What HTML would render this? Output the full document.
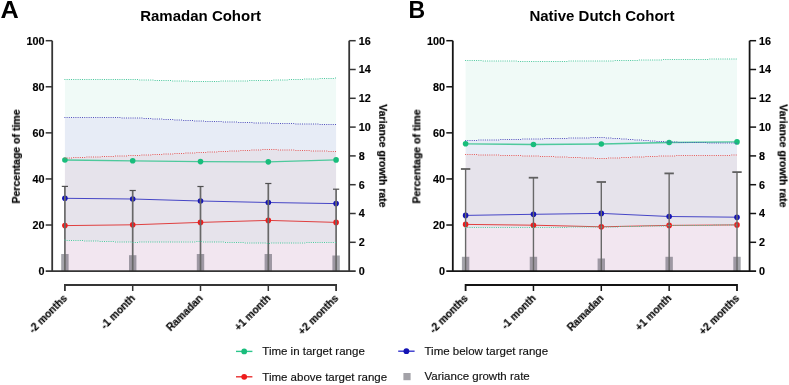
<!DOCTYPE html>
<html><head><meta charset="utf-8"><title>Chart</title><style>
html,body{margin:0;padding:0;background:#fff;}
svg{display:block;} text{will-change:transform;}
text{font-family:"Liberation Sans", sans-serif;}
.tk{font-size:10.8px;font-weight:bold;fill:#000;stroke:#000;stroke-width:0.15px;}
.xl{font-size:10.3px;font-weight:bold;fill:#000;stroke:#000;stroke-width:0.15px;}
.ttl{font-size:15px;font-weight:bold;fill:#000;}
.lbl{font-size:24.3px;font-weight:bold;fill:#000;}
.yt{font-size:10.5px;font-weight:bold;fill:#000;stroke:#000;stroke-width:0.2px;}
.lg{font-size:11.5px;fill:#111;stroke:#111;stroke-width:0.15px;}
</style></head>
<body>
<svg width="789" height="385" viewBox="0 0 789 385">
<rect width="789" height="385" fill="#fff"/>
<polygon points="64.9,79.5 132.7,79.6 200.5,81.6 268.3,80.4 336.1,78.2 336.1,124.6 268.3,123.2 200.5,121.1 132.7,117.8 64.9,117.5" fill="#f0faf7"/>
<polygon points="64.9,117.5 132.7,117.8 200.5,121.1 268.3,123.2 336.1,124.6 336.1,151.5 268.3,149.5 200.5,152.5 132.7,155.6 64.9,158" fill="#e7ecf6"/>
<polygon points="64.9,158 132.7,155.6 200.5,152.5 268.3,149.5 336.1,151.5 336.1,242.3 268.3,243.3 200.5,241.7 132.7,242.3 64.9,240.2" fill="#e6e3eb"/>
<polygon points="64.9,240.2 132.7,242.3 200.5,241.7 268.3,243.3 336.1,242.3 336.1,271.1 268.3,271.1 200.5,271.1 132.7,271.1 64.9,271.1" fill="#f2e6f0"/>
<rect x="61.2" y="254" width="7.4" height="17.1" fill="#4a4a56" fill-opacity="0.5"/>
<rect x="129" y="255.2" width="7.4" height="15.9" fill="#4a4a56" fill-opacity="0.5"/>
<rect x="196.8" y="254" width="7.4" height="17.1" fill="#4a4a56" fill-opacity="0.5"/>
<rect x="264.6" y="254" width="7.4" height="17.1" fill="#4a4a56" fill-opacity="0.5"/>
<rect x="332.4" y="255.5" width="7.4" height="15.6" fill="#4a4a56" fill-opacity="0.5"/>
<polyline points="64.9,160 132.7,160.8 200.5,161.6 268.3,161.85 336.1,159.9" fill="none" stroke="#4ec99c" stroke-width="1.3"/>
<polyline points="64.9,198.3 132.7,199 200.5,201 268.3,202.5 336.1,203.6" fill="none" stroke="#4646c6" stroke-width="1.0"/>
<polyline points="64.9,225.6 132.7,224.8 200.5,222.4 268.3,220.4 336.1,222.4" fill="none" stroke="#e04040" stroke-width="1.0"/>
<circle cx="64.9" cy="160" r="2.8" fill="#19bd7c"/>
<circle cx="132.7" cy="160.8" r="2.8" fill="#19bd7c"/>
<circle cx="200.5" cy="161.6" r="2.8" fill="#19bd7c"/>
<circle cx="268.3" cy="161.85" r="2.8" fill="#19bd7c"/>
<circle cx="336.1" cy="159.9" r="2.8" fill="#19bd7c"/>
<circle cx="64.9" cy="198.3" r="2.8" fill="#1414b4"/>
<circle cx="132.7" cy="199" r="2.8" fill="#1414b4"/>
<circle cx="200.5" cy="201" r="2.8" fill="#1414b4"/>
<circle cx="268.3" cy="202.5" r="2.8" fill="#1414b4"/>
<circle cx="336.1" cy="203.6" r="2.8" fill="#1414b4"/>
<circle cx="64.9" cy="225.6" r="2.8" fill="#ee1c1c"/>
<circle cx="132.7" cy="224.8" r="2.8" fill="#ee1c1c"/>
<circle cx="200.5" cy="222.4" r="2.8" fill="#ee1c1c"/>
<circle cx="268.3" cy="220.4" r="2.8" fill="#ee1c1c"/>
<circle cx="336.1" cy="222.4" r="2.8" fill="#ee1c1c"/>
<line x1="64.9" y1="186.4" x2="64.9" y2="271.1" stroke="#686868" stroke-width="1.7"/>
<line x1="61.8" y1="186.4" x2="68" y2="186.4" stroke="#505050" stroke-width="1.2"/>
<line x1="132.7" y1="190.5" x2="132.7" y2="271.1" stroke="#686868" stroke-width="1.7"/>
<line x1="129.6" y1="190.5" x2="135.8" y2="190.5" stroke="#505050" stroke-width="1.2"/>
<line x1="200.5" y1="186.5" x2="200.5" y2="271.1" stroke="#686868" stroke-width="1.7"/>
<line x1="197.4" y1="186.5" x2="203.6" y2="186.5" stroke="#505050" stroke-width="1.2"/>
<line x1="268.3" y1="183.5" x2="268.3" y2="271.1" stroke="#686868" stroke-width="1.7"/>
<line x1="265.2" y1="183.5" x2="271.4" y2="183.5" stroke="#505050" stroke-width="1.2"/>
<line x1="336.1" y1="189.2" x2="336.1" y2="271.1" stroke="#686868" stroke-width="1.7"/>
<line x1="333" y1="189.2" x2="339.2" y2="189.2" stroke="#505050" stroke-width="1.2"/>
<path d="M64.4 79h1v1h-1zM66.6 79h1v1h-1zM68.8 79h1v1h-1zM71 79h1v1h-1zM73.2 79h1v1h-1zM75.4 79h1v1h-1zM77.6 79h1v1h-1zM79.8 79h1v1h-1zM82 79h1v1h-1zM84.2 79h1v1h-1zM86.4 79h1v1h-1zM88.6 79h1v1h-1zM90.8 79h1v1h-1zM93 79h1v1h-1zM95.2 79h1v1h-1zM97.4 79h1v1h-1zM99.6 79h1v1h-1zM101.8 79h1v1h-1zM104 79h1v1h-1zM106.2 79h1v1h-1zM108.4 79h1v1h-1zM110.6 79h1v1h-1zM112.8 79h1v1h-1zM115 79h1v1h-1zM117.2 79h1v1h-1zM119.4 79h1v1h-1zM121.6 79h1v1h-1zM123.8 79h1v1h-1zM126 79h1v1h-1zM128.2 79h1v1h-1zM130.4 79h1v1h-1zM132.6 79h1v1h-1zM134.8 79h1v1h-1zM137 79h1v1h-1zM139.2 79.5h1v1h-1zM141.4 79.5h1v1h-1zM143.6 79.5h1v1h-1zM145.8 79.5h1v1h-1zM148 79.5h1v1h-1zM150.2 79.5h1v1h-1zM152.4 79.5h1v1h-1zM154.6 80h1v1h-1zM156.8 80h1v1h-1zM159 80h1v1h-1zM161.2 80h1v1h-1zM163.4 80h1v1h-1zM165.6 80h1v1h-1zM167.8 80h1v1h-1zM170 80h1v1h-1zM172.2 80.5h1v1h-1zM174.4 80.5h1v1h-1zM176.6 80.5h1v1h-1zM178.8 80.5h1v1h-1zM181 80.5h1v1h-1zM183.2 80.5h1v1h-1zM185.4 80.5h1v1h-1zM187.6 80.5h1v1h-1zM189.8 81h1v1h-1zM192 81h1v1h-1zM194.2 81h1v1h-1zM196.4 81h1v1h-1zM198.6 81h1v1h-1zM200.8 81h1v1h-1zM203 81h1v1h-1zM205.2 81h1v1h-1zM207.4 81h1v1h-1zM209.6 81h1v1h-1zM211.8 81h1v1h-1zM214 81h1v1h-1zM216.2 81h1v1h-1zM218.4 81h1v1h-1zM220.6 80.5h1v1h-1zM222.8 80.5h1v1h-1zM225 80.5h1v1h-1zM227.2 80.5h1v1h-1zM229.4 80.5h1v1h-1zM231.6 80.5h1v1h-1zM233.8 80.5h1v1h-1zM236 80.5h1v1h-1zM238.2 80.5h1v1h-1zM240.4 80.5h1v1h-1zM242.6 80.5h1v1h-1zM244.8 80.5h1v1h-1zM247 80.5h1v1h-1zM249.2 80h1v1h-1zM251.4 80h1v1h-1zM253.6 80h1v1h-1zM255.8 80h1v1h-1zM258 80h1v1h-1zM260.2 80h1v1h-1zM262.4 80h1v1h-1zM264.6 80h1v1h-1zM266.8 80h1v1h-1zM269 80h1v1h-1zM271.2 80h1v1h-1zM273.4 79.5h1v1h-1zM275.6 79.5h1v1h-1zM277.8 79.5h1v1h-1zM280 79.5h1v1h-1zM282.2 79.5h1v1h-1zM284.4 79.5h1v1h-1zM286.6 79.5h1v1h-1zM288.8 79h1v1h-1zM291 79h1v1h-1zM293.2 79h1v1h-1zM295.4 79h1v1h-1zM297.6 79h1v1h-1zM299.8 79h1v1h-1zM302 79h1v1h-1zM304.2 78.5h1v1h-1zM306.4 78.5h1v1h-1zM308.6 78.5h1v1h-1zM310.8 78.5h1v1h-1zM313 78.5h1v1h-1zM315.2 78.5h1v1h-1zM317.4 78.5h1v1h-1zM319.6 78h1v1h-1zM321.8 78h1v1h-1zM324 78h1v1h-1zM326.2 78h1v1h-1zM328.4 78h1v1h-1zM330.6 78h1v1h-1zM332.8 78h1v1h-1zM335 77.5h1v1h-1z" fill="#4cc89e"/>
<path d="M64.4 117h1v1h-1zM66.6 117h1v1h-1zM68.8 117h1v1h-1zM71 117h1v1h-1zM73.2 117h1v1h-1zM75.4 117h1v1h-1zM77.6 117h1v1h-1zM79.8 117h1v1h-1zM82 117h1v1h-1zM84.2 117h1v1h-1zM86.4 117h1v1h-1zM88.6 117h1v1h-1zM90.8 117h1v1h-1zM93 117h1v1h-1zM95.2 117h1v1h-1zM97.4 117h1v1h-1zM99.6 117h1v1h-1zM101.8 117h1v1h-1zM104 117h1v1h-1zM106.2 117h1v1h-1zM108.4 117h1v1h-1zM110.6 117h1v1h-1zM112.8 117h1v1h-1zM115 117h1v1h-1zM117.2 117h1v1h-1zM119.4 117h1v1h-1zM121.6 117.5h1v1h-1zM123.8 117.5h1v1h-1zM126 117.5h1v1h-1zM128.2 117.5h1v1h-1zM130.4 117.5h1v1h-1zM132.6 117.5h1v1h-1zM134.8 117.5h1v1h-1zM137 117.5h1v1h-1zM139.2 117.5h1v1h-1zM141.4 117.5h1v1h-1zM143.6 118h1v1h-1zM145.8 118h1v1h-1zM148 118h1v1h-1zM150.2 118h1v1h-1zM152.4 118.5h1v1h-1zM154.6 118.5h1v1h-1zM156.8 118.5h1v1h-1zM159 118.5h1v1h-1zM161.2 118.5h1v1h-1zM163.4 119h1v1h-1zM165.6 119h1v1h-1zM167.8 119h1v1h-1zM170 119h1v1h-1zM172.2 119h1v1h-1zM174.4 119.5h1v1h-1zM176.6 119.5h1v1h-1zM178.8 119.5h1v1h-1zM181 119.5h1v1h-1zM183.2 120h1v1h-1zM185.4 120h1v1h-1zM187.6 120h1v1h-1zM189.8 120h1v1h-1zM192 120h1v1h-1zM194.2 120.5h1v1h-1zM196.4 120.5h1v1h-1zM198.6 120.5h1v1h-1zM200.8 120.5h1v1h-1zM203 120.5h1v1h-1zM205.2 121h1v1h-1zM207.4 121h1v1h-1zM209.6 121h1v1h-1zM211.8 121h1v1h-1zM214 121h1v1h-1zM216.2 121h1v1h-1zM218.4 121h1v1h-1zM220.6 121h1v1h-1zM222.8 121.5h1v1h-1zM225 121.5h1v1h-1zM227.2 121.5h1v1h-1zM229.4 121.5h1v1h-1zM231.6 121.5h1v1h-1zM233.8 121.5h1v1h-1zM236 121.5h1v1h-1zM238.2 122h1v1h-1zM240.4 122h1v1h-1zM242.6 122h1v1h-1zM244.8 122h1v1h-1zM247 122h1v1h-1zM249.2 122h1v1h-1zM251.4 122h1v1h-1zM253.6 122.5h1v1h-1zM255.8 122.5h1v1h-1zM258 122.5h1v1h-1zM260.2 122.5h1v1h-1zM262.4 122.5h1v1h-1zM264.6 122.5h1v1h-1zM266.8 122.5h1v1h-1zM269 122.5h1v1h-1zM271.2 123h1v1h-1zM273.4 123h1v1h-1zM275.6 123h1v1h-1zM277.8 123h1v1h-1zM280 123h1v1h-1zM282.2 123h1v1h-1zM284.4 123h1v1h-1zM286.6 123h1v1h-1zM288.8 123h1v1h-1zM291 123h1v1h-1zM293.2 123h1v1h-1zM295.4 123.5h1v1h-1zM297.6 123.5h1v1h-1zM299.8 123.5h1v1h-1zM302 123.5h1v1h-1zM304.2 123.5h1v1h-1zM306.4 123.5h1v1h-1zM308.6 123.5h1v1h-1zM310.8 123.5h1v1h-1zM313 123.5h1v1h-1zM315.2 123.5h1v1h-1zM317.4 123.5h1v1h-1zM319.6 124h1v1h-1zM321.8 124h1v1h-1zM324 124h1v1h-1zM326.2 124h1v1h-1zM328.4 124h1v1h-1zM330.6 124h1v1h-1zM332.8 124h1v1h-1zM335 124h1v1h-1z" fill="#5252bc"/>
<path d="M64.4 157.5h1v1h-1zM66.6 157.5h1v1h-1zM68.8 157.5h1v1h-1zM71 157.5h1v1h-1zM73.2 157h1v1h-1zM75.4 157h1v1h-1zM77.6 157h1v1h-1zM79.8 157h1v1h-1zM82 157h1v1h-1zM84.2 157h1v1h-1zM86.4 156.5h1v1h-1zM88.6 156.5h1v1h-1zM90.8 156.5h1v1h-1zM93 156.5h1v1h-1zM95.2 156.5h1v1h-1zM97.4 156.5h1v1h-1zM99.6 156.5h1v1h-1zM101.8 156h1v1h-1zM104 156h1v1h-1zM106.2 156h1v1h-1zM108.4 156h1v1h-1zM110.6 156h1v1h-1zM112.8 156h1v1h-1zM115 155.5h1v1h-1zM117.2 155.5h1v1h-1zM119.4 155.5h1v1h-1zM121.6 155.5h1v1h-1zM123.8 155.5h1v1h-1zM126 155.5h1v1h-1zM128.2 155h1v1h-1zM130.4 155h1v1h-1zM132.6 155h1v1h-1zM134.8 155h1v1h-1zM137 155h1v1h-1zM139.2 155h1v1h-1zM141.4 154.5h1v1h-1zM143.6 154.5h1v1h-1zM145.8 154.5h1v1h-1zM148 154.5h1v1h-1zM150.2 154.5h1v1h-1zM152.4 154h1v1h-1zM154.6 154h1v1h-1zM156.8 154h1v1h-1zM159 154h1v1h-1zM161.2 154h1v1h-1zM163.4 153.5h1v1h-1zM165.6 153.5h1v1h-1zM167.8 153.5h1v1h-1zM170 153.5h1v1h-1zM172.2 153.5h1v1h-1zM174.4 153h1v1h-1zM176.6 153h1v1h-1zM178.8 153h1v1h-1zM181 153h1v1h-1zM183.2 153h1v1h-1zM185.4 152.5h1v1h-1zM187.6 152.5h1v1h-1zM189.8 152.5h1v1h-1zM192 152.5h1v1h-1zM194.2 152.5h1v1h-1zM196.4 152h1v1h-1zM198.6 152h1v1h-1zM200.8 152h1v1h-1zM203 152h1v1h-1zM205.2 152h1v1h-1zM207.4 151.5h1v1h-1zM209.6 151.5h1v1h-1zM211.8 151.5h1v1h-1zM214 151.5h1v1h-1zM216.2 151.5h1v1h-1zM218.4 151h1v1h-1zM220.6 151h1v1h-1zM222.8 151h1v1h-1zM225 151h1v1h-1zM227.2 151h1v1h-1zM229.4 150.5h1v1h-1zM231.6 150.5h1v1h-1zM233.8 150.5h1v1h-1zM236 150.5h1v1h-1zM238.2 150.5h1v1h-1zM240.4 150h1v1h-1zM242.6 150h1v1h-1zM244.8 150h1v1h-1zM247 150h1v1h-1zM249.2 150h1v1h-1zM251.4 149.5h1v1h-1zM253.6 149.5h1v1h-1zM255.8 149.5h1v1h-1zM258 149.5h1v1h-1zM260.2 149.5h1v1h-1zM262.4 149h1v1h-1zM264.6 149h1v1h-1zM266.8 149h1v1h-1zM269 149h1v1h-1zM271.2 149h1v1h-1zM273.4 149h1v1h-1zM275.6 149h1v1h-1zM277.8 149.5h1v1h-1zM280 149.5h1v1h-1zM282.2 149.5h1v1h-1zM284.4 149.5h1v1h-1zM286.6 149.5h1v1h-1zM288.8 149.5h1v1h-1zM291 149.5h1v1h-1zM293.2 149.5h1v1h-1zM295.4 150h1v1h-1zM297.6 150h1v1h-1zM299.8 150h1v1h-1zM302 150h1v1h-1zM304.2 150h1v1h-1zM306.4 150h1v1h-1zM308.6 150h1v1h-1zM310.8 150.5h1v1h-1zM313 150.5h1v1h-1zM315.2 150.5h1v1h-1zM317.4 150.5h1v1h-1zM319.6 150.5h1v1h-1zM321.8 150.5h1v1h-1zM324 150.5h1v1h-1zM326.2 150.5h1v1h-1zM328.4 151h1v1h-1zM330.6 151h1v1h-1zM332.8 151h1v1h-1zM335 151h1v1h-1z" fill="#e25858"/>
<path d="M64.4 239.5h1v1h-1zM66.6 240h1v1h-1zM68.8 240h1v1h-1zM71 240h1v1h-1zM73.2 240h1v1h-1zM75.4 240h1v1h-1zM77.6 240h1v1h-1zM79.8 240h1v1h-1zM82 240h1v1h-1zM84.2 240.5h1v1h-1zM86.4 240.5h1v1h-1zM88.6 240.5h1v1h-1zM90.8 240.5h1v1h-1zM93 240.5h1v1h-1zM95.2 240.5h1v1h-1zM97.4 240.5h1v1h-1zM99.6 241h1v1h-1zM101.8 241h1v1h-1zM104 241h1v1h-1zM106.2 241h1v1h-1zM108.4 241h1v1h-1zM110.6 241h1v1h-1zM112.8 241h1v1h-1zM115 241.5h1v1h-1zM117.2 241.5h1v1h-1zM119.4 241.5h1v1h-1zM121.6 241.5h1v1h-1zM123.8 241.5h1v1h-1zM126 241.5h1v1h-1zM128.2 241.5h1v1h-1zM130.4 241.5h1v1h-1zM132.6 242h1v1h-1zM134.8 242h1v1h-1zM137 242h1v1h-1zM139.2 241.5h1v1h-1zM141.4 241.5h1v1h-1zM143.6 241.5h1v1h-1zM145.8 241.5h1v1h-1zM148 241.5h1v1h-1zM150.2 241.5h1v1h-1zM152.4 241.5h1v1h-1zM154.6 241.5h1v1h-1zM156.8 241.5h1v1h-1zM159 241.5h1v1h-1zM161.2 241.5h1v1h-1zM163.4 241.5h1v1h-1zM165.6 241.5h1v1h-1zM167.8 241.5h1v1h-1zM170 241.5h1v1h-1zM172.2 241.5h1v1h-1zM174.4 241.5h1v1h-1zM176.6 241.5h1v1h-1zM178.8 241.5h1v1h-1zM181 241.5h1v1h-1zM183.2 241.5h1v1h-1zM185.4 241.5h1v1h-1zM187.6 241.5h1v1h-1zM189.8 241.5h1v1h-1zM192 241.5h1v1h-1zM194.2 241.5h1v1h-1zM196.4 241h1v1h-1zM198.6 241h1v1h-1zM200.8 241h1v1h-1zM203 241.5h1v1h-1zM205.2 241.5h1v1h-1zM207.4 241.5h1v1h-1zM209.6 241.5h1v1h-1zM211.8 241.5h1v1h-1zM214 241.5h1v1h-1zM216.2 241.5h1v1h-1zM218.4 241.5h1v1h-1zM220.6 241.5h1v1h-1zM222.8 241.5h1v1h-1zM225 242h1v1h-1zM227.2 242h1v1h-1zM229.4 242h1v1h-1zM231.6 242h1v1h-1zM233.8 242h1v1h-1zM236 242h1v1h-1zM238.2 242h1v1h-1zM240.4 242h1v1h-1zM242.6 242h1v1h-1zM244.8 242.5h1v1h-1zM247 242.5h1v1h-1zM249.2 242.5h1v1h-1zM251.4 242.5h1v1h-1zM253.6 242.5h1v1h-1zM255.8 242.5h1v1h-1zM258 242.5h1v1h-1zM260.2 242.5h1v1h-1zM262.4 242.5h1v1h-1zM264.6 242.5h1v1h-1zM266.8 243h1v1h-1zM269 243h1v1h-1zM271.2 242.5h1v1h-1zM273.4 242.5h1v1h-1zM275.6 242.5h1v1h-1zM277.8 242.5h1v1h-1zM280 242.5h1v1h-1zM282.2 242.5h1v1h-1zM284.4 242.5h1v1h-1zM286.6 242.5h1v1h-1zM288.8 242.5h1v1h-1zM291 242.5h1v1h-1zM293.2 242.5h1v1h-1zM295.4 242.5h1v1h-1zM297.6 242.5h1v1h-1zM299.8 242.5h1v1h-1zM302 242.5h1v1h-1zM304.2 242.5h1v1h-1zM306.4 242h1v1h-1zM308.6 242h1v1h-1zM310.8 242h1v1h-1zM313 242h1v1h-1zM315.2 242h1v1h-1zM317.4 242h1v1h-1zM319.6 242h1v1h-1zM321.8 242h1v1h-1zM324 242h1v1h-1zM326.2 242h1v1h-1zM328.4 242h1v1h-1zM330.6 242h1v1h-1zM332.8 242h1v1h-1zM335 242h1v1h-1z" fill="#4cc89e"/>
<line x1="52.2" y1="40.7" x2="52.2" y2="271.1" stroke="#353535" stroke-width="1.8"/>
<line x1="349.2" y1="40.7" x2="349.2" y2="271.1" stroke="#353535" stroke-width="1.8"/>
<line x1="45.7" y1="271.1" x2="355.7" y2="271.1" stroke="#353535" stroke-width="1.8"/>
<line x1="45.7" y1="40.7" x2="52.2" y2="40.7" stroke="#353535" stroke-width="1.5"/>
<line x1="45.7" y1="86.78" x2="52.2" y2="86.78" stroke="#353535" stroke-width="1.5"/>
<line x1="45.7" y1="132.86" x2="52.2" y2="132.86" stroke="#353535" stroke-width="1.5"/>
<line x1="45.7" y1="178.94" x2="52.2" y2="178.94" stroke="#353535" stroke-width="1.5"/>
<line x1="45.7" y1="225.02" x2="52.2" y2="225.02" stroke="#353535" stroke-width="1.5"/>
<text x="44.5" y="275" text-anchor="end" class="tk">0</text>
<text x="44.5" y="228.92" text-anchor="end" class="tk">20</text>
<text x="44.5" y="182.84" text-anchor="end" class="tk">40</text>
<text x="44.5" y="136.76" text-anchor="end" class="tk">60</text>
<text x="44.5" y="90.68" text-anchor="end" class="tk">80</text>
<text x="44.5" y="44.6" text-anchor="end" class="tk">100</text>
<line x1="349.2" y1="40.7" x2="355.7" y2="40.7" stroke="#353535" stroke-width="1.5"/>
<line x1="349.2" y1="69.5" x2="355.7" y2="69.5" stroke="#353535" stroke-width="1.5"/>
<line x1="349.2" y1="98.3" x2="355.7" y2="98.3" stroke="#353535" stroke-width="1.5"/>
<line x1="349.2" y1="127.1" x2="355.7" y2="127.1" stroke="#353535" stroke-width="1.5"/>
<line x1="349.2" y1="155.9" x2="355.7" y2="155.9" stroke="#353535" stroke-width="1.5"/>
<line x1="349.2" y1="184.7" x2="355.7" y2="184.7" stroke="#353535" stroke-width="1.5"/>
<line x1="349.2" y1="213.5" x2="355.7" y2="213.5" stroke="#353535" stroke-width="1.5"/>
<line x1="349.2" y1="242.3" x2="355.7" y2="242.3" stroke="#353535" stroke-width="1.5"/>
<text x="358.7" y="275" class="tk">0</text>
<text x="358.7" y="246.2" class="tk">2</text>
<text x="358.7" y="217.4" class="tk">4</text>
<text x="358.7" y="188.6" class="tk">6</text>
<text x="358.7" y="159.8" class="tk">8</text>
<text x="358.7" y="131" class="tk">10</text>
<text x="358.7" y="102.2" class="tk">12</text>
<text x="358.7" y="73.4" class="tk">14</text>
<text x="358.7" y="44.6" class="tk">16</text>
<polyline points="64.9,291 64.9,285 336.1,285 336.1,291" fill="none" stroke="#353535" stroke-width="1.8"/>
<line x1="132.7" y1="285" x2="132.7" y2="291" stroke="#353535" stroke-width="1.5"/>
<line x1="200.5" y1="285" x2="200.5" y2="291" stroke="#353535" stroke-width="1.5"/>
<line x1="268.3" y1="285" x2="268.3" y2="291" stroke="#353535" stroke-width="1.5"/>
<text transform="translate(67.9,299) rotate(-45)" text-anchor="end" class="xl">-2 months</text>
<text transform="translate(135.7,299) rotate(-45)" text-anchor="end" class="xl">-1 month</text>
<text transform="translate(203.5,299) rotate(-45)" text-anchor="end" class="xl">Ramadan</text>
<text transform="translate(271.3,299) rotate(-45)" text-anchor="end" class="xl">+1 month</text>
<text transform="translate(339.1,299) rotate(-45)" text-anchor="end" class="xl">+2 months</text>
<text x="140.2" y="21.3" class="ttl">Ramadan Cohort</text>
<text transform="translate(0.6,18) scale(1.04,1)" class="lbl">A</text>
<text transform="translate(19.9,156.5) rotate(-90)" text-anchor="middle" class="yt">Percentage of time</text>
<text transform="translate(379.2,155.9) rotate(90)" text-anchor="middle" class="yt">Variance growth rate</text>
<polygon points="465.6,60.5 533.45,61.5 601.3,61 669.15,59.6 737,59 737,143.3 669.15,142.1 601.3,137.5 533.45,139 465.6,140.5" fill="#f0faf7"/>
<polygon points="465.6,140.5 533.45,139 601.3,137.5 669.15,142.1 737,143.3 737,155.2 669.15,155.8 601.3,158.5 533.45,156 465.6,154.5" fill="#e7ecf6"/>
<polygon points="465.6,154.5 533.45,156 601.3,158.5 669.15,155.8 737,155.2 737,225 669.15,225.7 601.3,227.1 533.45,227.4 465.6,227.5" fill="#e6e3eb"/>
<polygon points="465.6,227.5 533.45,227.4 601.3,227.1 669.15,225.7 737,225 737,271.1 669.15,271.1 601.3,271.1 533.45,271.1 465.6,271.1" fill="#f2e6f0"/>
<rect x="461.9" y="256.8" width="7.4" height="14.3" fill="#4a4a56" fill-opacity="0.5"/>
<rect x="529.75" y="256.8" width="7.4" height="14.3" fill="#4a4a56" fill-opacity="0.5"/>
<rect x="597.6" y="258.5" width="7.4" height="12.6" fill="#4a4a56" fill-opacity="0.5"/>
<rect x="665.45" y="256.8" width="7.4" height="14.3" fill="#4a4a56" fill-opacity="0.5"/>
<rect x="733.3" y="256.8" width="7.4" height="14.3" fill="#4a4a56" fill-opacity="0.5"/>
<polyline points="465.6,143.8 533.45,144.5 601.3,144 669.15,142.5 737,141.9" fill="none" stroke="#4ec99c" stroke-width="1.3"/>
<polyline points="465.6,215.4 533.45,214.3 601.3,213.4 669.15,216.5 737,217.2" fill="none" stroke="#4646c6" stroke-width="1.0"/>
<polyline points="465.6,224.4 533.45,225.2 601.3,226.8 669.15,225.4 737,224.9" fill="none" stroke="#e04040" stroke-width="1.0"/>
<circle cx="465.6" cy="143.8" r="2.8" fill="#19bd7c"/>
<circle cx="533.45" cy="144.5" r="2.8" fill="#19bd7c"/>
<circle cx="601.3" cy="144" r="2.8" fill="#19bd7c"/>
<circle cx="669.15" cy="142.5" r="2.8" fill="#19bd7c"/>
<circle cx="737" cy="141.9" r="2.8" fill="#19bd7c"/>
<circle cx="465.6" cy="215.4" r="2.8" fill="#1414b4"/>
<circle cx="533.45" cy="214.3" r="2.8" fill="#1414b4"/>
<circle cx="601.3" cy="213.4" r="2.8" fill="#1414b4"/>
<circle cx="669.15" cy="216.5" r="2.8" fill="#1414b4"/>
<circle cx="737" cy="217.2" r="2.8" fill="#1414b4"/>
<circle cx="465.6" cy="224.4" r="2.8" fill="#ee1c1c"/>
<circle cx="533.45" cy="225.2" r="2.8" fill="#ee1c1c"/>
<circle cx="601.3" cy="226.8" r="2.8" fill="#ee1c1c"/>
<circle cx="669.15" cy="225.4" r="2.8" fill="#ee1c1c"/>
<circle cx="737" cy="224.9" r="2.8" fill="#ee1c1c"/>
<line x1="465.6" y1="169" x2="465.6" y2="271.1" stroke="#686868" stroke-width="1.4"/>
<line x1="460.9" y1="169" x2="470.3" y2="169" stroke="#606060" stroke-width="1.8"/>
<line x1="533.45" y1="177.7" x2="533.45" y2="271.1" stroke="#686868" stroke-width="1.4"/>
<line x1="528.75" y1="177.7" x2="538.15" y2="177.7" stroke="#606060" stroke-width="1.8"/>
<line x1="601.3" y1="182" x2="601.3" y2="271.1" stroke="#686868" stroke-width="1.4"/>
<line x1="596.6" y1="182" x2="606" y2="182" stroke="#606060" stroke-width="1.8"/>
<line x1="669.15" y1="173.4" x2="669.15" y2="271.1" stroke="#686868" stroke-width="1.4"/>
<line x1="664.45" y1="173.4" x2="673.85" y2="173.4" stroke="#606060" stroke-width="1.8"/>
<line x1="737" y1="172.1" x2="737" y2="271.1" stroke="#686868" stroke-width="1.4"/>
<line x1="732.3" y1="172.1" x2="741.7" y2="172.1" stroke="#606060" stroke-width="1.8"/>
<path d="M465.1 60h1v1h-1zM467.3 60h1v1h-1zM469.5 60h1v1h-1zM471.7 60h1v1h-1zM473.9 60h1v1h-1zM476.1 60h1v1h-1zM478.3 60h1v1h-1zM480.5 60h1v1h-1zM482.7 60.5h1v1h-1zM484.9 60.5h1v1h-1zM487.1 60.5h1v1h-1zM489.3 60.5h1v1h-1zM491.5 60.5h1v1h-1zM493.7 60.5h1v1h-1zM495.9 60.5h1v1h-1zM498.1 60.5h1v1h-1zM500.3 60.5h1v1h-1zM502.5 60.5h1v1h-1zM504.7 60.5h1v1h-1zM506.9 60.5h1v1h-1zM509.1 60.5h1v1h-1zM511.3 60.5h1v1h-1zM513.5 60.5h1v1h-1zM515.7 60.5h1v1h-1zM517.9 61h1v1h-1zM520.1 61h1v1h-1zM522.3 61h1v1h-1zM524.5 61h1v1h-1zM526.7 61h1v1h-1zM528.9 61h1v1h-1zM531.1 61h1v1h-1zM533.3 61h1v1h-1zM535.5 61h1v1h-1zM537.7 61h1v1h-1zM539.9 61h1v1h-1zM542.1 61h1v1h-1zM544.3 61h1v1h-1zM546.5 61h1v1h-1zM548.7 61h1v1h-1zM550.9 61h1v1h-1zM553.1 61h1v1h-1zM555.3 61h1v1h-1zM557.5 61h1v1h-1zM559.7 61h1v1h-1zM561.9 61h1v1h-1zM564.1 61h1v1h-1zM566.3 61h1v1h-1zM568.5 60.5h1v1h-1zM570.7 60.5h1v1h-1zM572.9 60.5h1v1h-1zM575.1 60.5h1v1h-1zM577.3 60.5h1v1h-1zM579.5 60.5h1v1h-1zM581.7 60.5h1v1h-1zM583.9 60.5h1v1h-1zM586.1 60.5h1v1h-1zM588.3 60.5h1v1h-1zM590.5 60.5h1v1h-1zM592.7 60.5h1v1h-1zM594.9 60.5h1v1h-1zM597.1 60.5h1v1h-1zM599.3 60.5h1v1h-1zM601.5 60.5h1v1h-1zM603.7 60.5h1v1h-1zM605.9 60.5h1v1h-1zM608.1 60.5h1v1h-1zM610.3 60.5h1v1h-1zM612.5 60.5h1v1h-1zM614.7 60h1v1h-1zM616.9 60h1v1h-1zM619.1 60h1v1h-1zM621.3 60h1v1h-1zM623.5 60h1v1h-1zM625.7 60h1v1h-1zM627.9 60h1v1h-1zM630.1 60h1v1h-1zM632.3 60h1v1h-1zM634.5 60h1v1h-1zM636.7 60h1v1h-1zM638.9 59.5h1v1h-1zM641.1 59.5h1v1h-1zM643.3 59.5h1v1h-1zM645.5 59.5h1v1h-1zM647.7 59.5h1v1h-1zM649.9 59.5h1v1h-1zM652.1 59.5h1v1h-1zM654.3 59.5h1v1h-1zM656.5 59.5h1v1h-1zM658.7 59.5h1v1h-1zM660.9 59.5h1v1h-1zM663.1 59h1v1h-1zM665.3 59h1v1h-1zM667.5 59h1v1h-1zM669.7 59h1v1h-1zM671.9 59h1v1h-1zM674.1 59h1v1h-1zM676.3 59h1v1h-1zM678.5 59h1v1h-1zM680.7 59h1v1h-1zM682.9 59h1v1h-1zM685.1 59h1v1h-1zM687.3 59h1v1h-1zM689.5 59h1v1h-1zM691.7 59h1v1h-1zM693.9 59h1v1h-1zM696.1 59h1v1h-1zM698.3 59h1v1h-1zM700.5 59h1v1h-1zM702.7 59h1v1h-1zM704.9 59h1v1h-1zM707.1 59h1v1h-1zM709.3 58.5h1v1h-1zM711.5 58.5h1v1h-1zM713.7 58.5h1v1h-1zM715.9 58.5h1v1h-1zM718.1 58.5h1v1h-1zM720.3 58.5h1v1h-1zM722.5 58.5h1v1h-1zM724.7 58.5h1v1h-1zM726.9 58.5h1v1h-1zM729.1 58.5h1v1h-1zM731.3 58.5h1v1h-1zM733.5 58.5h1v1h-1zM735.7 58.5h1v1h-1z" fill="#4cc89e"/>
<path d="M465.1 140h1v1h-1zM467.3 140h1v1h-1zM469.5 140h1v1h-1zM471.7 140h1v1h-1zM473.9 140h1v1h-1zM476.1 140h1v1h-1zM478.3 139.5h1v1h-1zM480.5 139.5h1v1h-1zM482.7 139.5h1v1h-1zM484.9 139.5h1v1h-1zM487.1 139.5h1v1h-1zM489.3 139.5h1v1h-1zM491.5 139.5h1v1h-1zM493.7 139.5h1v1h-1zM495.9 139.5h1v1h-1zM498.1 139.5h1v1h-1zM500.3 139h1v1h-1zM502.5 139h1v1h-1zM504.7 139h1v1h-1zM506.9 139h1v1h-1zM509.1 139h1v1h-1zM511.3 139h1v1h-1zM513.5 139h1v1h-1zM515.7 139h1v1h-1zM517.9 139h1v1h-1zM520.1 139h1v1h-1zM522.3 138.5h1v1h-1zM524.5 138.5h1v1h-1zM526.7 138.5h1v1h-1zM528.9 138.5h1v1h-1zM531.1 138.5h1v1h-1zM533.3 138.5h1v1h-1zM535.5 138.5h1v1h-1zM537.7 138.5h1v1h-1zM539.9 138.5h1v1h-1zM542.1 138.5h1v1h-1zM544.3 138h1v1h-1zM546.5 138h1v1h-1zM548.7 138h1v1h-1zM550.9 138h1v1h-1zM553.1 138h1v1h-1zM555.3 138h1v1h-1zM557.5 138h1v1h-1zM559.7 138h1v1h-1zM561.9 138h1v1h-1zM564.1 138h1v1h-1zM566.3 138h1v1h-1zM568.5 137.5h1v1h-1zM570.7 137.5h1v1h-1zM572.9 137.5h1v1h-1zM575.1 137.5h1v1h-1zM577.3 137.5h1v1h-1zM579.5 137.5h1v1h-1zM581.7 137.5h1v1h-1zM583.9 137.5h1v1h-1zM586.1 137.5h1v1h-1zM588.3 137.5h1v1h-1zM590.5 137h1v1h-1zM592.7 137h1v1h-1zM594.9 137h1v1h-1zM597.1 137h1v1h-1zM599.3 137h1v1h-1zM601.5 137h1v1h-1zM603.7 137h1v1h-1zM605.9 137.5h1v1h-1zM608.1 137.5h1v1h-1zM610.3 137.5h1v1h-1zM612.5 138h1v1h-1zM614.7 138h1v1h-1zM616.9 138h1v1h-1zM619.1 138h1v1h-1zM621.3 138.5h1v1h-1zM623.5 138.5h1v1h-1zM625.7 138.5h1v1h-1zM627.9 139h1v1h-1zM630.1 139h1v1h-1zM632.3 139h1v1h-1zM634.5 139.5h1v1h-1zM636.7 139.5h1v1h-1zM638.9 139.5h1v1h-1zM641.1 139.5h1v1h-1zM643.3 140h1v1h-1zM645.5 140h1v1h-1zM647.7 140h1v1h-1zM649.9 140.5h1v1h-1zM652.1 140.5h1v1h-1zM654.3 140.5h1v1h-1zM656.5 141h1v1h-1zM658.7 141h1v1h-1zM660.9 141h1v1h-1zM663.1 141h1v1h-1zM665.3 141.5h1v1h-1zM667.5 141.5h1v1h-1zM669.7 141.5h1v1h-1zM671.9 141.5h1v1h-1zM674.1 141.5h1v1h-1zM676.3 141.5h1v1h-1zM678.5 142h1v1h-1zM680.7 142h1v1h-1zM682.9 142h1v1h-1zM685.1 142h1v1h-1zM687.3 142h1v1h-1zM689.5 142h1v1h-1zM691.7 142h1v1h-1zM693.9 142h1v1h-1zM696.1 142h1v1h-1zM698.3 142h1v1h-1zM700.5 142h1v1h-1zM702.7 142h1v1h-1zM704.9 142h1v1h-1zM707.1 142.5h1v1h-1zM709.3 142.5h1v1h-1zM711.5 142.5h1v1h-1zM713.7 142.5h1v1h-1zM715.9 142.5h1v1h-1zM718.1 142.5h1v1h-1zM720.3 142.5h1v1h-1zM722.5 142.5h1v1h-1zM724.7 142.5h1v1h-1zM726.9 142.5h1v1h-1zM729.1 142.5h1v1h-1zM731.3 142.5h1v1h-1zM733.5 142.5h1v1h-1zM735.7 143h1v1h-1z" fill="#5252bc"/>
<path d="M465.1 154h1v1h-1zM467.3 154h1v1h-1zM469.5 154h1v1h-1zM471.7 154h1v1h-1zM473.9 154h1v1h-1zM476.1 154h1v1h-1zM478.3 154.5h1v1h-1zM480.5 154.5h1v1h-1zM482.7 154.5h1v1h-1zM484.9 154.5h1v1h-1zM487.1 154.5h1v1h-1zM489.3 154.5h1v1h-1zM491.5 154.5h1v1h-1zM493.7 154.5h1v1h-1zM495.9 154.5h1v1h-1zM498.1 154.5h1v1h-1zM500.3 155h1v1h-1zM502.5 155h1v1h-1zM504.7 155h1v1h-1zM506.9 155h1v1h-1zM509.1 155h1v1h-1zM511.3 155h1v1h-1zM513.5 155h1v1h-1zM515.7 155h1v1h-1zM517.9 155h1v1h-1zM520.1 155h1v1h-1zM522.3 155.5h1v1h-1zM524.5 155.5h1v1h-1zM526.7 155.5h1v1h-1zM528.9 155.5h1v1h-1zM531.1 155.5h1v1h-1zM533.3 155.5h1v1h-1zM535.5 155.5h1v1h-1zM537.7 155.5h1v1h-1zM539.9 156h1v1h-1zM542.1 156h1v1h-1zM544.3 156h1v1h-1zM546.5 156h1v1h-1zM548.7 156h1v1h-1zM550.9 156h1v1h-1zM553.1 156h1v1h-1zM555.3 156.5h1v1h-1zM557.5 156.5h1v1h-1zM559.7 156.5h1v1h-1zM561.9 156.5h1v1h-1zM564.1 156.5h1v1h-1zM566.3 156.5h1v1h-1zM568.5 157h1v1h-1zM570.7 157h1v1h-1zM572.9 157h1v1h-1zM575.1 157h1v1h-1zM577.3 157h1v1h-1zM579.5 157h1v1h-1zM581.7 157.5h1v1h-1zM583.9 157.5h1v1h-1zM586.1 157.5h1v1h-1zM588.3 157.5h1v1h-1zM590.5 157.5h1v1h-1zM592.7 157.5h1v1h-1zM594.9 158h1v1h-1zM597.1 158h1v1h-1zM599.3 158h1v1h-1zM601.5 158h1v1h-1zM603.7 158h1v1h-1zM605.9 158h1v1h-1zM608.1 157.5h1v1h-1zM610.3 157.5h1v1h-1zM612.5 157.5h1v1h-1zM614.7 157.5h1v1h-1zM616.9 157.5h1v1h-1zM619.1 157.5h1v1h-1zM621.3 157h1v1h-1zM623.5 157h1v1h-1zM625.7 157h1v1h-1zM627.9 157h1v1h-1zM630.1 157h1v1h-1zM632.3 156.5h1v1h-1zM634.5 156.5h1v1h-1zM636.7 156.5h1v1h-1zM638.9 156.5h1v1h-1zM641.1 156.5h1v1h-1zM643.3 156.5h1v1h-1zM645.5 156h1v1h-1zM647.7 156h1v1h-1zM649.9 156h1v1h-1zM652.1 156h1v1h-1zM654.3 156h1v1h-1zM656.5 156h1v1h-1zM658.7 155.5h1v1h-1zM660.9 155.5h1v1h-1zM663.1 155.5h1v1h-1zM665.3 155.5h1v1h-1zM667.5 155.5h1v1h-1zM669.7 155.5h1v1h-1zM671.9 155.5h1v1h-1zM674.1 155.5h1v1h-1zM676.3 155h1v1h-1zM678.5 155h1v1h-1zM680.7 155h1v1h-1zM682.9 155h1v1h-1zM685.1 155h1v1h-1zM687.3 155h1v1h-1zM689.5 155h1v1h-1zM691.7 155h1v1h-1zM693.9 155h1v1h-1zM696.1 155h1v1h-1zM698.3 155h1v1h-1zM700.5 155h1v1h-1zM702.7 155h1v1h-1zM704.9 155h1v1h-1zM707.1 155h1v1h-1zM709.3 155h1v1h-1zM711.5 155h1v1h-1zM713.7 155h1v1h-1zM715.9 155h1v1h-1zM718.1 155h1v1h-1zM720.3 155h1v1h-1zM722.5 155h1v1h-1zM724.7 155h1v1h-1zM726.9 155h1v1h-1zM729.1 155h1v1h-1zM731.3 154.5h1v1h-1zM733.5 154.5h1v1h-1zM735.7 154.5h1v1h-1z" fill="#e25858"/>
<path d="M465.1 227h1v1h-1zM467.3 227h1v1h-1zM469.5 227h1v1h-1zM471.7 227h1v1h-1zM473.9 227h1v1h-1zM476.1 227h1v1h-1zM478.3 227h1v1h-1zM480.5 227h1v1h-1zM482.7 227h1v1h-1zM484.9 227h1v1h-1zM487.1 227h1v1h-1zM489.3 227h1v1h-1zM491.5 227h1v1h-1zM493.7 227h1v1h-1zM495.9 227h1v1h-1zM498.1 227h1v1h-1zM500.3 227h1v1h-1zM502.5 227h1v1h-1zM504.7 227h1v1h-1zM506.9 227h1v1h-1zM509.1 227h1v1h-1zM511.3 227h1v1h-1zM513.5 227h1v1h-1zM515.7 227h1v1h-1zM517.9 227h1v1h-1zM520.1 227h1v1h-1zM522.3 227h1v1h-1zM524.5 227h1v1h-1zM526.7 227h1v1h-1zM528.9 227h1v1h-1zM531.1 227h1v1h-1zM533.3 227h1v1h-1zM535.5 227h1v1h-1zM537.7 227h1v1h-1zM539.9 227h1v1h-1zM542.1 227h1v1h-1zM544.3 227h1v1h-1zM546.5 227h1v1h-1zM548.7 227h1v1h-1zM550.9 227h1v1h-1zM553.1 227h1v1h-1zM555.3 227h1v1h-1zM557.5 227h1v1h-1zM559.7 227h1v1h-1zM561.9 227h1v1h-1zM564.1 227h1v1h-1zM566.3 227h1v1h-1zM568.5 226.5h1v1h-1zM570.7 226.5h1v1h-1zM572.9 226.5h1v1h-1zM575.1 226.5h1v1h-1zM577.3 226.5h1v1h-1zM579.5 226.5h1v1h-1zM581.7 226.5h1v1h-1zM583.9 226.5h1v1h-1zM586.1 226.5h1v1h-1zM588.3 226.5h1v1h-1zM590.5 226.5h1v1h-1zM592.7 226.5h1v1h-1zM594.9 226.5h1v1h-1zM597.1 226.5h1v1h-1zM599.3 226.5h1v1h-1zM601.5 226.5h1v1h-1zM603.7 226.5h1v1h-1zM605.9 226.5h1v1h-1zM608.1 226.5h1v1h-1zM610.3 226.5h1v1h-1zM612.5 226.5h1v1h-1zM614.7 226.5h1v1h-1zM616.9 226.5h1v1h-1zM619.1 226h1v1h-1zM621.3 226h1v1h-1zM623.5 226h1v1h-1zM625.7 226h1v1h-1zM627.9 226h1v1h-1zM630.1 226h1v1h-1zM632.3 226h1v1h-1zM634.5 226h1v1h-1zM636.7 226h1v1h-1zM638.9 226h1v1h-1zM641.1 226h1v1h-1zM643.3 225.5h1v1h-1zM645.5 225.5h1v1h-1zM647.7 225.5h1v1h-1zM649.9 225.5h1v1h-1zM652.1 225.5h1v1h-1zM654.3 225.5h1v1h-1zM656.5 225.5h1v1h-1zM658.7 225.5h1v1h-1zM660.9 225.5h1v1h-1zM663.1 225.5h1v1h-1zM665.3 225.5h1v1h-1zM667.5 225h1v1h-1zM669.7 225h1v1h-1zM671.9 225h1v1h-1zM674.1 225h1v1h-1zM676.3 225h1v1h-1zM678.5 225h1v1h-1zM680.7 225h1v1h-1zM682.9 225h1v1h-1zM685.1 225h1v1h-1zM687.3 225h1v1h-1zM689.5 225h1v1h-1zM691.7 225h1v1h-1zM693.9 225h1v1h-1zM696.1 225h1v1h-1zM698.3 225h1v1h-1zM700.5 225h1v1h-1zM702.7 225h1v1h-1zM704.9 225h1v1h-1zM707.1 225h1v1h-1zM709.3 225h1v1h-1zM711.5 225h1v1h-1zM713.7 224.5h1v1h-1zM715.9 224.5h1v1h-1zM718.1 224.5h1v1h-1zM720.3 224.5h1v1h-1zM722.5 224.5h1v1h-1zM724.7 224.5h1v1h-1zM726.9 224.5h1v1h-1zM729.1 224.5h1v1h-1zM731.3 224.5h1v1h-1zM733.5 224.5h1v1h-1zM735.7 224.5h1v1h-1z" fill="#4cc89e"/>
<line x1="452.8" y1="40.7" x2="452.8" y2="271.1" stroke="#141414" stroke-width="1.8"/>
<line x1="749.6" y1="40.7" x2="749.6" y2="271.1" stroke="#141414" stroke-width="1.8"/>
<line x1="446.3" y1="271.1" x2="756.1" y2="271.1" stroke="#141414" stroke-width="1.8"/>
<line x1="446.3" y1="40.7" x2="452.8" y2="40.7" stroke="#141414" stroke-width="1.5"/>
<line x1="446.3" y1="86.78" x2="452.8" y2="86.78" stroke="#141414" stroke-width="1.5"/>
<line x1="446.3" y1="132.86" x2="452.8" y2="132.86" stroke="#141414" stroke-width="1.5"/>
<line x1="446.3" y1="178.94" x2="452.8" y2="178.94" stroke="#141414" stroke-width="1.5"/>
<line x1="446.3" y1="225.02" x2="452.8" y2="225.02" stroke="#141414" stroke-width="1.5"/>
<text x="445.1" y="275" text-anchor="end" class="tk">0</text>
<text x="445.1" y="228.92" text-anchor="end" class="tk">20</text>
<text x="445.1" y="182.84" text-anchor="end" class="tk">40</text>
<text x="445.1" y="136.76" text-anchor="end" class="tk">60</text>
<text x="445.1" y="90.68" text-anchor="end" class="tk">80</text>
<text x="445.1" y="44.6" text-anchor="end" class="tk">100</text>
<line x1="749.6" y1="40.7" x2="756.1" y2="40.7" stroke="#141414" stroke-width="1.5"/>
<line x1="749.6" y1="69.5" x2="756.1" y2="69.5" stroke="#141414" stroke-width="1.5"/>
<line x1="749.6" y1="98.3" x2="756.1" y2="98.3" stroke="#141414" stroke-width="1.5"/>
<line x1="749.6" y1="127.1" x2="756.1" y2="127.1" stroke="#141414" stroke-width="1.5"/>
<line x1="749.6" y1="155.9" x2="756.1" y2="155.9" stroke="#141414" stroke-width="1.5"/>
<line x1="749.6" y1="184.7" x2="756.1" y2="184.7" stroke="#141414" stroke-width="1.5"/>
<line x1="749.6" y1="213.5" x2="756.1" y2="213.5" stroke="#141414" stroke-width="1.5"/>
<line x1="749.6" y1="242.3" x2="756.1" y2="242.3" stroke="#141414" stroke-width="1.5"/>
<text x="759.1" y="275" class="tk">0</text>
<text x="759.1" y="246.2" class="tk">2</text>
<text x="759.1" y="217.4" class="tk">4</text>
<text x="759.1" y="188.6" class="tk">6</text>
<text x="759.1" y="159.8" class="tk">8</text>
<text x="759.1" y="131" class="tk">10</text>
<text x="759.1" y="102.2" class="tk">12</text>
<text x="759.1" y="73.4" class="tk">14</text>
<text x="759.1" y="44.6" class="tk">16</text>
<polyline points="465.6,291 465.6,285 737,285 737,291" fill="none" stroke="#141414" stroke-width="1.8"/>
<line x1="533.45" y1="285" x2="533.45" y2="291" stroke="#141414" stroke-width="1.5"/>
<line x1="601.3" y1="285" x2="601.3" y2="291" stroke="#141414" stroke-width="1.5"/>
<line x1="669.15" y1="285" x2="669.15" y2="291" stroke="#141414" stroke-width="1.5"/>
<text transform="translate(468.6,299) rotate(-45)" text-anchor="end" class="xl">-2 months</text>
<text transform="translate(536.45,299) rotate(-45)" text-anchor="end" class="xl">-1 month</text>
<text transform="translate(604.3,299) rotate(-45)" text-anchor="end" class="xl">Ramadan</text>
<text transform="translate(672.15,299) rotate(-45)" text-anchor="end" class="xl">+1 month</text>
<text transform="translate(740,299) rotate(-45)" text-anchor="end" class="xl">+2 months</text>
<text x="529.4" y="21.3" class="ttl">Native Dutch Cohort</text>
<text transform="translate(408.6,18) scale(0.95,1)" class="lbl">B</text>
<text transform="translate(420.4,156.5) rotate(-90)" text-anchor="middle" class="yt">Percentage of time</text>
<text transform="translate(779.6,155.9) rotate(90)" text-anchor="middle" class="yt">Variance growth rate</text>
<line x1="236" y1="351.4" x2="252.4" y2="351.4" stroke="#2cc68c" stroke-width="1.4"/>
<circle cx="244.2" cy="351.4" r="2.9" fill="#19bd7c"/>
<text x="262.3" y="355.2" class="lg">Time in target range</text>
<line x1="398.2" y1="351.2" x2="414.6" y2="351.2" stroke="#3636cc" stroke-width="1.4"/>
<circle cx="406.4" cy="351.2" r="2.9" fill="#1414b4"/>
<text x="424.5" y="355" class="lg">Time below target range</text>
<line x1="236" y1="376.8" x2="252.4" y2="376.8" stroke="#e83030" stroke-width="1.4"/>
<circle cx="244.2" cy="376.8" r="2.9" fill="#ee1c1c"/>
<text x="262.3" y="380.6" class="lg">Time above target range</text>
<rect x="403.4" y="373" width="7.2" height="7.2" fill="#a3a2a8"/>
<text x="424.5" y="380.4" class="lg">Variance growth rate</text>
</svg>
</body></html>
